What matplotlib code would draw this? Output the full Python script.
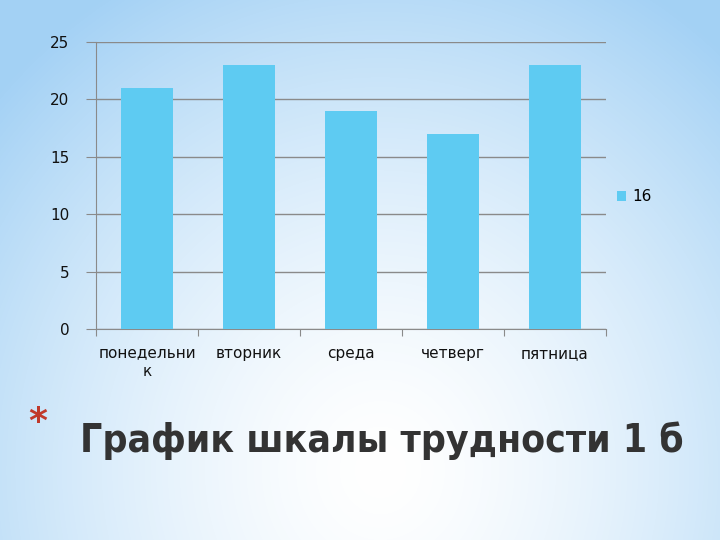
import matplotlib
matplotlib.use("Agg")
import matplotlib.pyplot as plt
import numpy as np

days = ["понедельни\nк", "вторник", "среда", "четверг", "пятница"]
values = [21, 23, 19, 17, 23]
series_name = "16"
title = "График шкалы трудности 1 б"

fig = plt.figure(figsize=(7.2, 5.4), dpi=100)

# radial background: white near the bottom centre, light blue at the edges
bg = fig.add_axes([0, 0, 1, 1])
yy, xx = np.mgrid[0:540, 0:720]
d = np.sqrt(((xx - 380) / 520.0) ** 2 + ((yy - 470) / 560.0) ** 2)
t = np.clip(d, 0, 1) ** 1.5
white = np.array([1.0, 1.0, 1.0])
blue = np.array([0.64, 0.82, 0.96])
img = white[None, None, :] * (1 - t[..., None]) + blue[None, None, :] * t[..., None]
bg.imshow(img, extent=[0, 720, 540, 0], aspect="auto")
bg.set_xlim(0, 720)
bg.set_ylim(540, 0)
bg.axis("off")

ax = fig.add_axes([96 / 720, 211 / 540, 510 / 720, 287 / 540])
ax.patch.set_alpha(0)
x = np.arange(len(days))
ax.bar(x, values, width=0.51, color="#5ecbf2", label=series_name, zorder=3)
ax.set_xlim(-0.5, len(days) - 0.5)
ax.set_ylim(0, 25)
ax.set_yticks(range(0, 26, 5))
ax.yaxis.grid(True, color="#8a8a8a", linewidth=1)
ax.set_axisbelow(True)
for s in ["top", "right"]:
    ax.spines[s].set_visible(False)
ax.spines["left"].set_color("#8a8a8a")
ax.spines["bottom"].set_color("#8a8a8a")
ax.tick_params(axis="y", length=7, color="#8a8a8a", labelsize=11, pad=12, labelcolor="#111111")
ax.set_xticks(np.arange(-0.5, len(days), 1.0), minor=False)
ax.set_xticklabels([])
ax.tick_params(axis="x", length=5, color="#8a8a8a")
ax.set_xticks(x, minor=True)
ax.set_xticklabels(days, minor=True, fontsize=11, color="#111111", linespacing=1.3)
ax.tick_params(axis="x", which="minor", length=0, pad=12)

ax.legend(loc="center left", bbox_to_anchor=(0.995, 0.46), frameon=False,
          handlelength=0.6, handleheight=0.6, handletextpad=0.4, fontsize=11)

fig.text(28 / 720, 1 - 422 / 540, "*", color="#c0392b", fontsize=26,
         fontweight="bold", va="center", ha="left")
fig.text(80 / 720, 1 - 441 / 540, title, color="#333333", fontsize=28,
         fontweight="bold", fontstretch="condensed", va="center", ha="left",
         family=["DejaVu Sans"])

fig.savefig("out.png", dpi=100)
